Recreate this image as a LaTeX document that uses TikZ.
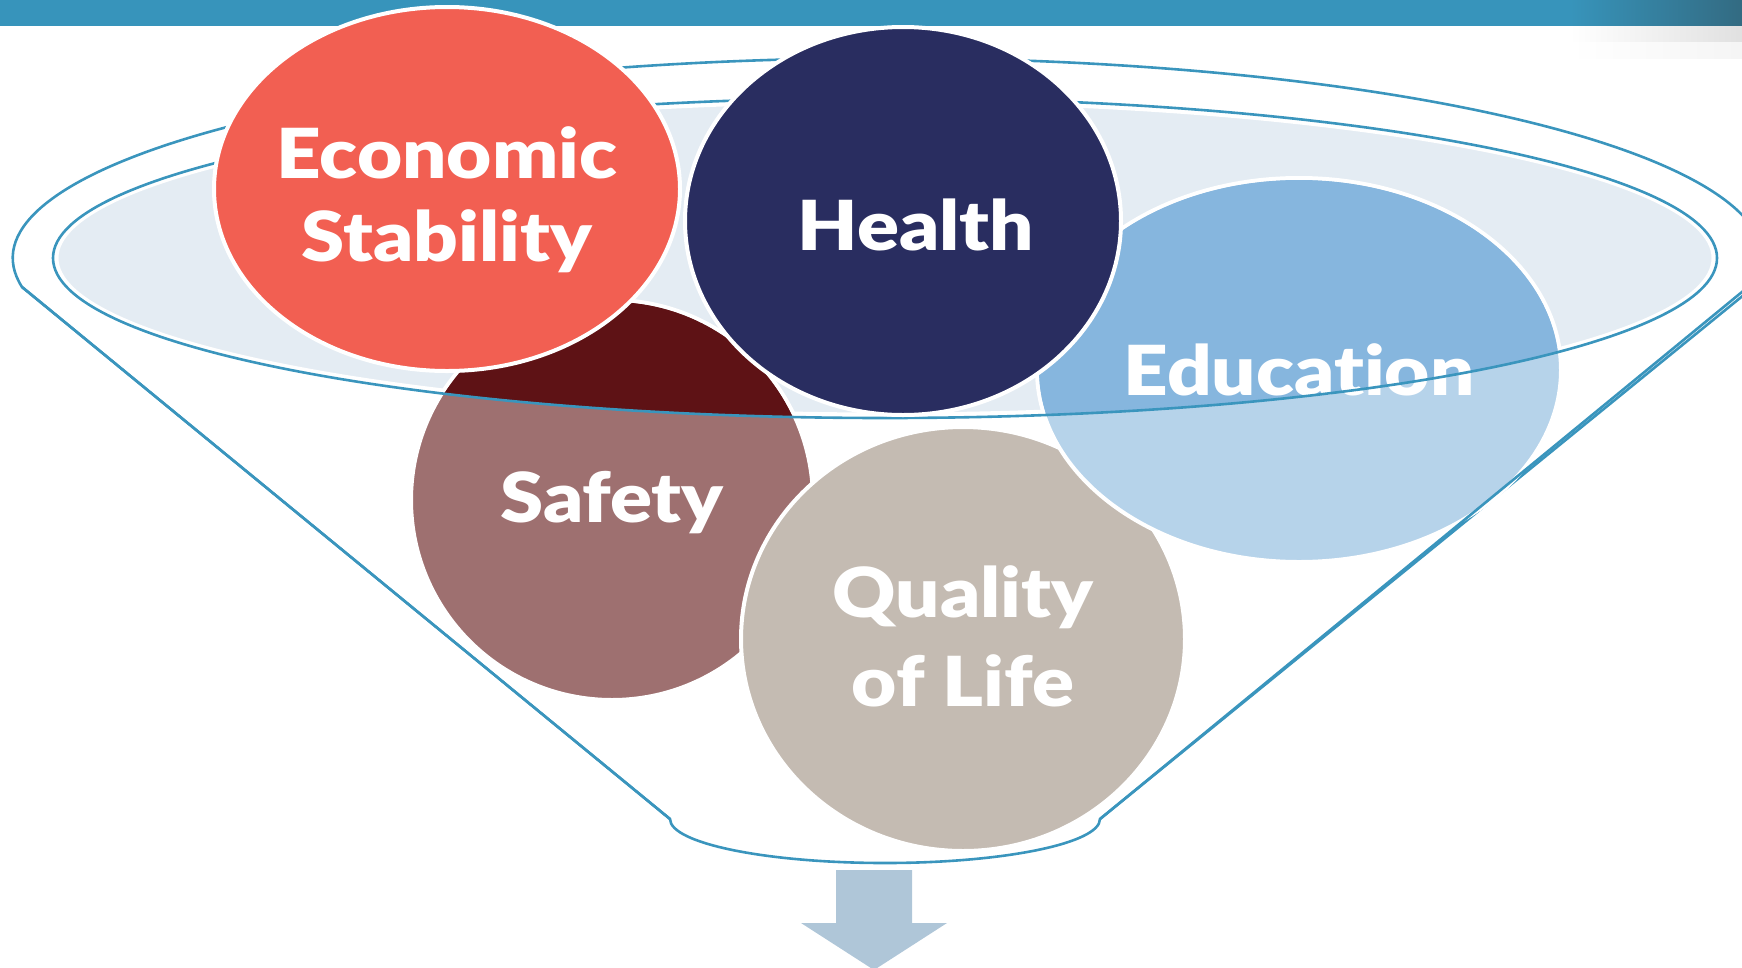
\documentclass[tikz,border=0pt]{standalone}
\usepackage{fontspec}
\setsansfont{Lato}[BoldFont={Lato Black},BoldFeatures={FakeStretch=1.13},Ligatures=NoCommon]
\usetikzlibrary{shapes.geometric}

\definecolor{barblue}{HTML}{3794BB}
\definecolor{bardark}{HTML}{336B82}
\definecolor{funnelblue}{HTML}{3A95BD}
\definecolor{rimfill}{HTML}{E4ECF3}
\definecolor{econ}{HTML}{F25F52}
\definecolor{health}{HTML}{292D60}
\definecolor{educdark}{HTML}{86B6DE}
\definecolor{educlight}{HTML}{B6D3EA}
\definecolor{safetydark}{HTML}{5E1215}
\definecolor{safetylight}{HTML}{9E7070}
\definecolor{quality}{HTML}{C4BBB2}
\definecolor{arrowblue}{HTML}{AFC6D8}

\begin{document}
\begin{tikzpicture}[x=1pt,y=-1pt,
    funnel line/.style={draw=funnelblue,line width=2.6pt},
    blob/.style={ellipse,draw=white,line width=4pt,inner sep=0pt},
    blob text/.style={text=white,align=center,
      font=\sffamily\bfseries\fontsize{69}{83}\selectfont}]

  \useasboundingbox (0,0) rectangle (1742,967);

  % top bar
  \fill[barblue] (0,0) rectangle (1742,26);
  \shade[left color=barblue,right color=bardark] (1570,0) rectangle (1742,26);
  \shade[left color=white,right color=black!12] (1570,26) rectangle (1742,42);
  \shade[left color=white,right color=black!4] (1570,42) rectangle (1742,58);

  % funnel corners
  \coordinate (rim left) at (22,287);
  \coordinate (rim right) at (1748,287);
  \coordinate (neck left) at (670,819);
  \coordinate (neck right) at (1100,819);

  % funnel outline
  \draw[funnel line] (rim left) arc[start angle=171.7,end angle=368.3,x radius=875,y radius=200]
    -- (neck right) arc[start angle=0,end angle=180,x radius=215,y radius=44] -- cycle;

  % inside of the rim
  \filldraw[fill=rimfill,draw=white,line width=3pt] (885,258) ellipse [x radius=828,y radius=156];

  % circles sitting inside the funnel
  \node[blob,fill=safetylight,minimum width=402,minimum height=400] (safety) at (612,500) {};
  \node[blob,fill=quality,minimum width=444,minimum height=424] (quality) at (963,639) {};
  \node[blob text,font=\sffamily\bfseries\fontsize{69}{89}\selectfont] at ([yshift=3]quality.center) {Quality\\of Life};
  \node[blob,fill=educlight,minimum width=524,minimum height=384] (educ) at (1299,370) {};
  \begin{scope}
    \clip (885,258) ellipse [x radius=832,y radius=160];
    \fill[safetydark] (safety.center) ellipse [x radius=199,y radius=198];
    \fill[educdark] (educ.center) ellipse [x radius=260,y radius=190];
  \end{scope}
  \node[blob text] at ([yshift=-3]safety.center) {Safety};
  \node[blob text] at (educ.center) {Education};

  % rim line
  \draw[funnel line] (885,258) ellipse [x radius=832,y radius=160];

  % circles in front
  \node[blob,fill=health,minimum width=436,minimum height=388] (health) at (903,221) {};
  \node[blob text] at ([xshift=13,yshift=-4]health.center) {Health};
  \node[blob,fill=econ,minimum width=466,minimum height=364] (econ) at (447,189) {};
  \node[blob text] at ([yshift=-11]econ.center) {Economic\\Stability};

  % funnel sides over the circles
  \draw[funnel line] (rim right) -- (neck right);
  \draw[funnel line] (rim left) -- (neck left);

  % arrow out of the funnel
  \fill[arrowblue] (836,870) -- (912,870) -- (912,923) -- (947,923) -- (874,970)
    -- (801,923) -- (836,923) -- cycle;
\end{tikzpicture}
\end{document}
